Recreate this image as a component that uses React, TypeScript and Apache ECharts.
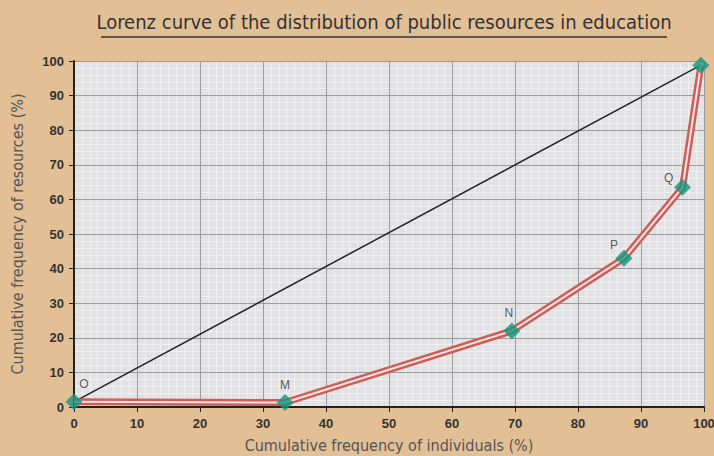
import React, { useEffect, useRef } from "react";
import * as echarts from "echarts";

const title = "Lorenz curve of the distribution of public resources in education";
const xName = "Cumulative frequency of individuals (%)";
const yName = "Cumulative frequency of resources (%)";
const pointNames = ["O", "M", "N", "P", "Q", ""];
const individuals = [0, 33.5, 69.5, 87.3, 96.6, 99.5];
const resources = [1.5, 1.3, 22, 43, 63.5, 98.8];
const equalityX = [0, 99.5];
const equalityY = [1.5, 98.8];
const labelOffsets = [[10, 2], [0, 2], [-3, 2], [-10, 6], [-14, 10], [0, 0]];

const narrow = '"DejaVu Sans Condensed", "Liberation Sans Narrow", sans-serif';

export default function App() {
  const ref = useRef<HTMLDivElement>(null);
  useEffect(() => {
    const chart = echarts.init(ref.current!, undefined, { renderer: "svg" });
    const curve = individuals.map((x, i) => [x, resources[i]]);
    const eq = equalityX.map((x, i) => [x, equalityY[i]]);
    const minorAxis = (interval: number) => ({
      type: "value",
      min: 0,
      max: 100,
      interval,
      z: 0,
      axisLine: { show: false },
      axisTick: { show: false },
      axisLabel: { show: false },
      splitLine: { show: true, lineStyle: { color: "#F0F0F1", width: 1 } },
    });
    chart.setOption({
      animation: false,
      backgroundColor: "#E3BF95",
      grid: {
        left: 74,
        right: 10,
        top: 61,
        bottom: 49,
        show: true,
        backgroundColor: "#E2E2E5",
        borderWidth: 0,
        outerBoundsMode: "none",
        containLabel: false,
      },
      graphic: [
        {
          type: "text",
          x: 384,
          y: 12,
          style: {
            text: title,
            fill: "#333",
            font: "20px " + narrow,
            textAlign: "center",
          },
        },
        {
          type: "line",
          shape: { x1: 101, y1: 37, x2: 667, y2: 37 },
          style: { stroke: "#333", lineWidth: 1.5 },
        },
      ],
      xAxis: [
        {
          type: "value",
          min: 0,
          max: 100,
          interval: 10,
          z: 1,
          name: xName,
          nameLocation: "middle",
          nameGap: 30,
          nameTextStyle: { fontSize: 16, color: "#555", fontFamily: narrow },
          axisLine: { show: true, lineStyle: { color: "#222", width: 2 } },
          axisTick: { show: true, length: 5, lineStyle: { color: "#222" } },
          axisLabel: { fontSize: 13, fontWeight: "bold", color: "#333", margin: 10 },
          splitLine: { show: true, lineStyle: { color: "#9C9C9C", width: 1 } },
        },
        minorAxis(1.25),
      ],
      yAxis: [
        {
          type: "value",
          min: 0,
          max: 100,
          interval: 10,
          z: 1,
          name: yName,
          nameLocation: "middle",
          nameGap: 49,
          nameTextStyle: { fontSize: 16, color: "#555", fontFamily: narrow },
          axisLine: { show: true, lineStyle: { color: "#222", width: 2 } },
          axisTick: { show: true, length: 5, lineStyle: { color: "#222" } },
          axisLabel: { fontSize: 13, fontWeight: "bold", color: "#333", margin: 10 },
          splitLine: { show: true, lineStyle: { color: "#9C9C9C", width: 1 } },
        },
        minorAxis(2),
      ],
      series: [
        {
          type: "line",
          data: eq,
          symbol: "none",
          lineStyle: { color: "#222", width: 1.5 },
          silent: true,
          z: 2,
        },
        {
          type: "line",
          data: curve,
          symbol: "none",
          lineStyle: { color: "#CC5F5A", width: 7 },
          z: 3,
        },
        {
          type: "line",
          data: curve,
          symbol: "none",
          lineStyle: { color: "#F3E6E4", width: 2 },
          z: 4,
        },
        {
          type: "scatter",
          data: curve.map((p, i) => ({
            value: p,
            label: {
              show: pointNames[i] !== "",
              formatter: pointNames[i],
              position: "top",
              offset: labelOffsets[i],
              fontSize: 12,
              color: "#333",
            },
          })),
          symbol: "diamond",
          symbolSize: [17, 17],
          itemStyle: { color: "#13977F" },
          clip: false,
          z: 5,
        },
      ],
    });
    return () => chart.dispose();
  }, []);
  return <div ref={ref} style={{ width: 714, height: 456, position: "absolute", left: 0, top: 0 }} />;
}
